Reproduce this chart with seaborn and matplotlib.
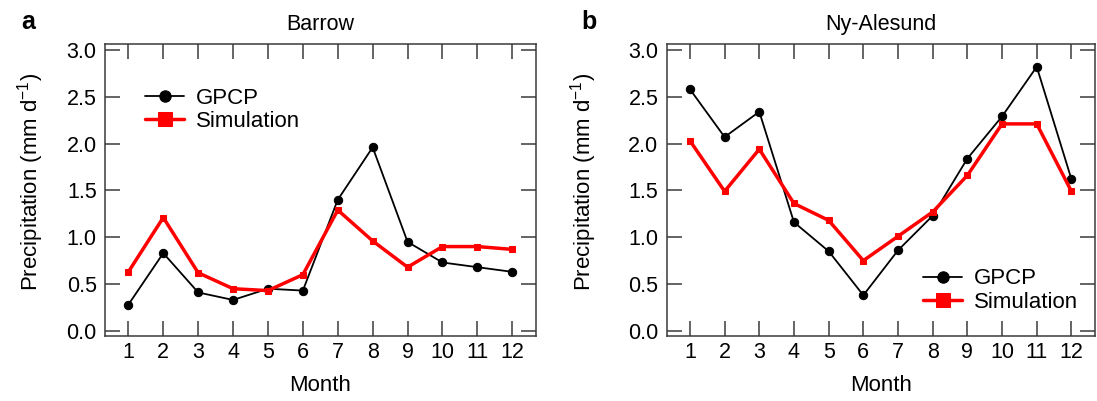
import matplotlib
matplotlib.use('Agg')
import matplotlib.pyplot as plt
import seaborn as sns
import pandas as pd

# monthly precipitation (mm/day)
months = list(range(1, 13))
barrow_gpcp = [0.28, 0.83, 0.41, 0.33, 0.45, 0.43, 1.40, 1.96, 0.95, 0.73, 0.68, 0.63]
barrow_sim = [0.63, 1.21, 0.62, 0.45, 0.43, 0.60, 1.29, 0.96, 0.68, 0.90, 0.90, 0.87]
ny_gpcp = [2.58, 2.07, 2.34, 1.16, 0.85, 0.38, 0.86, 1.23, 1.84, 2.29, 2.82, 1.62]
ny_sim = [2.03, 1.49, 1.94, 1.36, 1.18, 0.75, 1.01, 1.27, 1.66, 2.21, 2.21, 1.49]
y_ticks = [0.0, 0.5, 1.0, 1.5, 2.0, 2.5, 3.0]

sns.set_style('ticks')
plt.rcParams['font.family'] = ['Liberation Sans', 'DejaVu Sans']
plt.rcParams['mathtext.fontset'] = 'custom'
plt.rcParams['mathtext.rm'] = 'Liberation Sans'
plt.rcParams['mathtext.it'] = 'Liberation Sans'
plt.rcParams['text.color'] = 'black'
plt.rcParams['axes.labelcolor'] = 'black'
plt.rcParams['xtick.labelcolor'] = 'black'
plt.rcParams['ytick.labelcolor'] = 'black'

fig = plt.figure(figsize=(10.97, 4.01), dpi=100)
ax_a = fig.add_axes([105 / 1097, 65 / 401, 431 / 1097, 291.7 / 401])
ax_b = fig.add_axes([666.7 / 1097, 65 / 401, 428.3 / 1097, 291.7 / 401])


def draw_panel(ax, gpcp, sim, title, leg_anchor, ylab_x):
    df = pd.DataFrame({'Month': months, 'GPCP': gpcp, 'Simulation': sim})
    sns.lineplot(data=df, x='Month', y='GPCP', ax=ax, color='black', lw=1.3,
                 marker='o', markersize=6, markeredgecolor='black', label='GPCP')
    sns.lineplot(data=df, x='Month', y='Simulation', ax=ax, color='red', lw=2.5,
                 marker='s', markersize=3.8, markeredgecolor='red', label='Simulation')

    ax.set_xlim(0.33, 12.68)
    ax.set_ylim(-0.055, 3.06)
    ax.set_xticks(months)
    ax.set_yticks(y_ticks)
    ax.yaxis.set_major_formatter('{x:.1f}')
    ax.tick_params(direction='in', length=11, width=1.1, color='#3a3a3a',
                   top=True, right=True, labelsize=15.5)
    ax.tick_params(axis='x', pad=4)
    ax.tick_params(axis='y', pad=6)
    for s in ax.spines.values():
        s.set_color('#3a3a3a')
        s.set_linewidth(1.1)

    ax.set_title(title, fontsize=15.5, pad=10)
    ax.set_xlabel('Month', fontsize=16, labelpad=9)
    ax.set_ylabel('Precipitation (mm d$^{-1}$)', fontsize=16)
    ax.yaxis.set_label_coords(ylab_x, 0.53)

    leg = ax.legend(loc='upper left', bbox_to_anchor=leg_anchor, frameon=False,
                    fontsize=16, borderpad=0, borderaxespad=0, handlelength=1.75,
                    handletextpad=0.55, labelspacing=0.1)
    h_gpcp, h_sim = leg.legend_handles
    h_gpcp.set_markersize(8.2)
    h_sim.set_markersize(9.4)


draw_panel(ax_a, barrow_gpcp, barrow_sim, 'Barrow', (0.093, 0.85), -0.136)
draw_panel(ax_b, ny_gpcp, ny_sim, 'Ny-Alesund', (0.599, 0.232), -0.159)

fig.text(21.7 / 1097, 1 - 29 / 401, 'a', fontsize=18, fontweight='bold', va='baseline')
fig.text(581.7 / 1097, 1 - 29 / 401, 'b', fontsize=18, fontweight='bold', va='baseline')

fig.savefig('out.png', dpi=100)
